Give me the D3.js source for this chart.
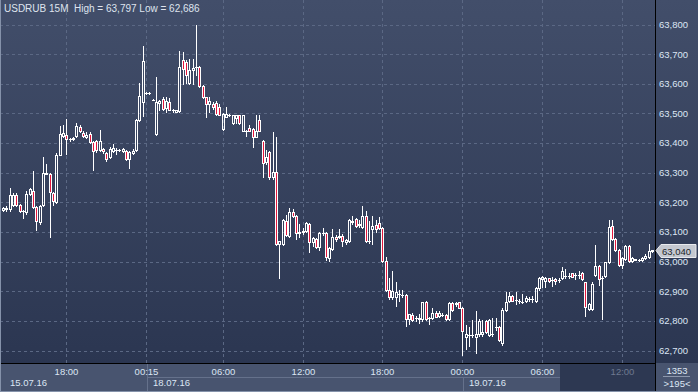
<!DOCTYPE html>
<html>
<head>
<meta charset="utf-8">
<script src="https://cdn.jsdelivr.net/npm/d3@7"></script>
<style>
  html, body { margin: 0; padding: 0; background: #333e59; }
  svg { display: block; font-family: "Liberation Sans", Arial, sans-serif; }
</style>
</head>
<body>
<div id="chart"></div>
<script>
// USDRUB 15M candles (index 0 = 15.07.16 13:15)
const opens = [
  63175,63180,63177,63190,63226,63192,63172,63166,63228,63239,
  63183,63132,63190,63296,63296,63230,63200,63361,63424,63428,
  63414,63412,63425,63455,63433,63421,63431,63403,63406,63377,
  63380,63366,63352,63374,63378,63377,63374,63374,63346,63365,
  63377,63478,63538,63569,63569,63546,63431,63536,63549,63518,
  63538,63512,63506,63507,63681,63673,63602,63645,63655,63658,
  63594,63554,63532,63532,63534,63523,63448,63489,63494,63467,
  63485,63493,63442,63442,63451,63448,63422,63478,63408,63335,
  63371,63284,63303,63059,63059,63138,63087,63169,63155,63100,
  63100,63104,63127,63065,63076,63048,63095,63098,63011,63042,
  63082,63082,63087,63065,63068,63138,63143,63124,63118,63155,
  63068,63110,63124,63129,63113,63003,62904,62879,62881,62890,
  62888,62888,62806,62820,62809,62811,62806,62865,62809,62809,
  62828,62817,62820,62820,62806,62859,62857,62862,62845,62746,
  62753,62753,62746,62755,62757,62798,62753,62755,62778,62778,
  62724,62836,62868,62885,62870,62868,62865,62868,62873,62873,
  62868,62910,62941,62935,62944,62937,62941,62937,62944,62952,
  62952,62960,62955,62955,62963,62930,62839,62839,62955,62986,
  62944,62952,62997,63121,63076,63039,62989,63008,63053,63003,
  63008,63005,63005,63012,63014,63036
];
const highs = [
  63185,63188,63248,63232,63230,63196,63175,63237,63250,63305,
  63186,63190,63354,63330,63300,63234,63365,63459,63462,63481,
  63418,63420,63466,63460,63440,63437,63438,63406,63410,63444,
  63384,63370,63385,63397,63382,63380,63383,63378,63372,63380,
  63482,63604,63728,63571,63571,63548,63624,63546,63557,63554,
  63552,63514,63512,63710,63706,63680,63684,63684,63797,63660,
  63596,63556,63557,63540,63543,63532,63500,63523,63497,63496,
  63494,63496,63496,63444,63462,63451,63496,63496,63410,63377,
  63374,63436,63419,63070,63145,63158,63180,63178,63158,63127,
  63115,63132,63130,63084,63080,63100,63112,63100,63048,63110,
  63090,63110,63092,63075,63145,63155,63148,63140,63189,63172,
  63138,63155,63140,63151,63116,63014,62944,62967,62930,62904,
  62904,62890,62823,62826,62815,62823,62865,62868,62812,62843,
  62832,62832,62826,62823,62865,62865,62862,62865,62848,62787,
  62778,62802,62832,62805,62802,62802,62806,62809,62809,62782,
  62845,62896,62896,62888,62899,62875,62892,62885,62880,62885,
  62915,62948,62952,62949,62946,62949,62946,62944,62982,62975,
  62963,62963,62963,62967,62966,62932,62860,62930,63057,62990,
  62950,63000,63140,63140,63080,63042,63015,63057,63057,63015,
  63010,63008,63014,63025,63061,63040
];
const lows = [
  63170,63172,63172,63186,63188,63168,63147,63160,63225,63180,
  63106,63128,63188,63294,63082,63192,63198,63358,63420,63363,
  63408,63410,63422,63436,63420,63418,63400,63309,63370,63372,
  63368,63340,63348,63370,63363,63372,63370,63342,63316,63362,
  63374,63475,63490,63567,63567,63544,63428,63510,63512,63504,
  63510,63506,63504,63505,63600,63602,63598,63600,63628,63590,
  63552,63489,63504,63515,63496,63494,63444,63487,63490,63465,
  63467,63465,63440,63425,63440,63386,63420,63440,63286,63330,
  63280,63280,63055,62944,63055,63088,63084,63150,63076,63084,
  63092,63100,63034,63053,63045,63039,63090,63005,63003,63040,
  63070,63078,63053,63060,63065,63128,63118,63118,63115,63065,
  63064,63061,63100,63110,63000,62900,62875,62875,62851,62868,
  62880,62783,62789,62800,62800,62794,62800,62802,62791,62805,
  62812,62814,62815,62803,62803,62834,62850,62843,62686,62704,
  62716,62745,62690,62750,62750,62758,62750,62750,62770,62733,
  62720,62832,62865,62866,62856,62860,62860,62864,62866,62862,
  62865,62905,62913,62915,62932,62918,62924,62930,62940,62944,
  62944,62947,62941,62944,62938,62817,62835,62835,62950,62922,
  62806,62948,62994,63072,63036,62986,62980,63005,63000,62999,
  63004,63002,63002,63010,63012,63034
];
const closes = [
  63180,63176,63226,63226,63192,63172,63170,63228,63244,63183,
  63138,63186,63298,63300,63234,63203,63361,63431,63435,63414,
  63412,63416,63459,63442,63424,63428,63403,63374,63377,63406,
  63372,63346,63380,63383,63377,63377,63380,63346,63369,63374,
  63478,63559,63678,63569,63569,63545,63538,63543,63515,63541,
  63512,63510,63510,63658,63650,63628,63647,63653,63656,63594,
  63554,63532,63541,63523,63498,63496,63498,63498,63493,63493,
  63493,63467,63494,63440,63442,63419,63440,63442,63333,63354,
  63287,63301,63059,63068,63140,63091,63169,63155,63098,63097,
  63104,63129,63065,63079,63048,63098,63098,63014,63045,63082,
  63076,63087,63069,63073,63140,63132,63121,63127,63155,63068,
  63068,63121,63110,63115,63003,62904,62879,62901,62896,62890,
  62888,62806,62823,62802,62809,62806,62862,62806,62809,62828,
  62814,62825,62820,62806,62859,62836,62859,62845,62766,62755,
  62753,62753,62755,62798,62764,62761,62803,62755,62778,62735,
  62836,62865,62885,62868,62870,62868,62865,62877,62873,62873,
  62910,62944,62949,62944,62935,62937,62935,62937,62969,62952,
  62952,62949,62955,62955,62941,62847,62856,62926,62986,62941,
  62946,62997,63118,63076,63039,62989,63012,63053,63003,63012,
  63007,63005,63012,63020,63037,63040
];

const priceTicks = [62700, 62800, 62900, 63000, 63100, 63200, 63300, 63400, 63500, 63600, 63700, 63800];
const timeTickIndex = [19, 43, 66, 90, 114, 138, 162, 186];
const timeTickLabels = ["18:00", "00:15", "06:00", "12:00", "18:00", "00:00", "06:00", "12:00"];
const dateIndex = [0, 43, 138];
const dateLabels = ["15.07.16", "18.07.16", "19.07.16"];
const title = "USDRUB 15M  High = 63,797 Low = 62,686";
const lastPrice = 63040;

const W = 698, H = 392;
const plotRight = 655, plotBottom = 363;
const fmt = d3.format(",");

const svg = d3.select("#chart").append("svg").attr("width", W).attr("height", H);

const defs = svg.append("defs");
const grad = defs.append("linearGradient").attr("id", "bg").attr("x1", 0).attr("y1", 0).attr("x2", 0).attr("y2", 1);
grad.append("stop").attr("offset", "0%").attr("stop-color", "#424e6a");
grad.append("stop").attr("offset", "100%").attr("stop-color", "#2b3651");

svg.append("rect").attr("width", W).attr("height", plotBottom).attr("fill", "url(#bg)");

const x = d3.scaleLinear().domain([0, opens.length - 1]).range([3, 652]);
const y = d3.scaleLinear().domain([62700, 63800]).range([350.5, 24.5]);

// grid
const grid = svg.append("g").attr("stroke", "#5b6884").attr("stroke-dasharray", "3,3");
grid.selectAll("line.h").data(priceTicks).enter().append("line")
  .attr("x1", 0).attr("x2", plotRight)
  .attr("y1", d => Math.round(y(d)) + 0.5).attr("y2", d => Math.round(y(d)) + 0.5);
grid.selectAll("line.v").data(timeTickIndex).enter().append("line")
  .attr("y1", 0).attr("y2", plotBottom)
  .attr("x1", d => Math.round(x(d)) + 0.5).attr("x2", d => Math.round(x(d)) + 0.5);

// bottom band
svg.append("rect").attr("x", 0).attr("y", plotBottom).attr("width", W).attr("height", H - plotBottom).attr("fill", "#48546f");
svg.append("rect").attr("x", 560).attr("y", plotBottom + 1).attr("width", plotRight - 560).attr("height", H - plotBottom - 1).attr("fill", "#2d3852");
const sep = svg.append("g").attr("stroke", "#65718b");
sep.append("line").attr("x1", 147.5).attr("x2", 147.5).attr("y1", plotBottom).attr("y2", H);
sep.append("line").attr("x1", 147).attr("x2", 560).attr("y1", 377.5).attr("y2", 377.5);
sep.append("line").attr("x1", 463.5).attr("x2", 463.5).attr("y1", 377).attr("y2", H);
sep.append("line").attr("x1", 663).attr("x2", 690).attr("y1", 376.5).attr("y2", 376.5).attr("stroke", "#8d98ad");

// frame lines
svg.append("line").attr("x1", plotRight + 0.5).attr("x2", plotRight + 0.5).attr("y1", 0).attr("y2", H).attr("stroke", "#000");
svg.append("line").attr("x1", 0).attr("x2", plotRight).attr("y1", plotBottom + 0.5).attr("y2", plotBottom + 0.5).attr("stroke", "#000");
svg.append("line").attr("x1", 0.5).attr("x2", 0.5).attr("y1", 0).attr("y2", H).attr("stroke", "#8592aa");
svg.append("line").attr("x1", 0).attr("x2", W).attr("y1", H - 0.5).attr("y2", H - 0.5).attr("stroke", "#8592aa");

// candles
const candles = svg.append("g");
opens.forEach((o, i) => {
  const c = closes[i];
  const cx = Math.round(x(i));
  const yTop = Math.round(y(Math.max(o, c))) + 0.5;
  const yBot = Math.round(y(Math.min(o, c))) + 0.5;
  const yHi = Math.round(y(highs[i]));
  const yLo = Math.round(y(lows[i])) + 1;
  const g = candles.append("g").attr("stroke", "#fff").attr("stroke-width", 1);
  if (yHi < yTop - 0.5) g.append("line").attr("x1", cx + 0.5).attr("x2", cx + 0.5).attr("y1", yHi).attr("y2", yTop);
  if (yLo > yBot + 0.5) g.append("line").attr("x1", cx + 0.5).attr("x2", cx + 0.5).attr("y1", yBot).attr("y2", yLo);
  if (yBot - yTop < 1) {
    g.append("line").attr("x1", cx - 1).attr("x2", cx + 2).attr("y1", yTop).attr("y2", yTop);
  } else {
    g.append("rect").attr("x", cx - 0.5).attr("y", yTop).attr("width", 2).attr("height", yBot - yTop)
      .attr("fill", c < o ? "#e3173d" : "none");
  }
});

// title
svg.append("text").attr("x", 4).attr("y", 12).attr("fill", "#dfe4ee").attr("font-size", 10)
  .attr("xml:space", "preserve").text(title);

// price axis
svg.append("g").selectAll("text").data(priceTicks).enter().append("text")
  .attr("x", 659).attr("y", d => y(d) + 3.4)
  .attr("font-size", 9.5).attr("fill", "#dce6f4")
  .text(d => fmt(d));

// last price tag
const ly = Math.round(y(lastPrice)) + 0.5;
svg.append("path")
  .attr("d", `M656,${ly} L661,${ly - 6} L696,${ly - 6} L696,${ly + 7} L661,${ly + 7} Z`)
  .attr("fill", "#c4c8d0").attr("stroke", "#e9ebef");
svg.append("text").attr("x", 662).attr("y", ly + 4).attr("font-size", 9.5).attr("fill", "#1b1f28").text(fmt(lastPrice));

// time axis
svg.append("g").selectAll("text").data(timeTickIndex).enter().append("text")
  .attr("x", d => Math.round(x(d)) + 0.5).attr("y", 375)
  .attr("text-anchor", "middle").attr("font-size", 9.5)
  .attr("fill", d => x(d) > 560 ? "#6e7990" : "#dce6f4")
  .text((d, i) => timeTickLabels[i]);
svg.append("g").selectAll("text").data(dateIndex).enter().append("text")
  .attr("x", d => Math.round(x(d)) + 7).attr("y", 386)
  .attr("font-size", 9.5).attr("fill", "#dce6f4")
  .text((d, i) => dateLabels[i]);

svg.append("text").attr("x", 677).attr("y", 374).attr("text-anchor", "middle").attr("font-size", 9.5).attr("fill", "#dce6f4").text("1353");
svg.append("text").attr("x", 677).attr("y", 387).attr("text-anchor", "middle").attr("font-size", 9.5).attr("fill", "#dce6f4").text(">195<");
</script>
</body>
</html>
